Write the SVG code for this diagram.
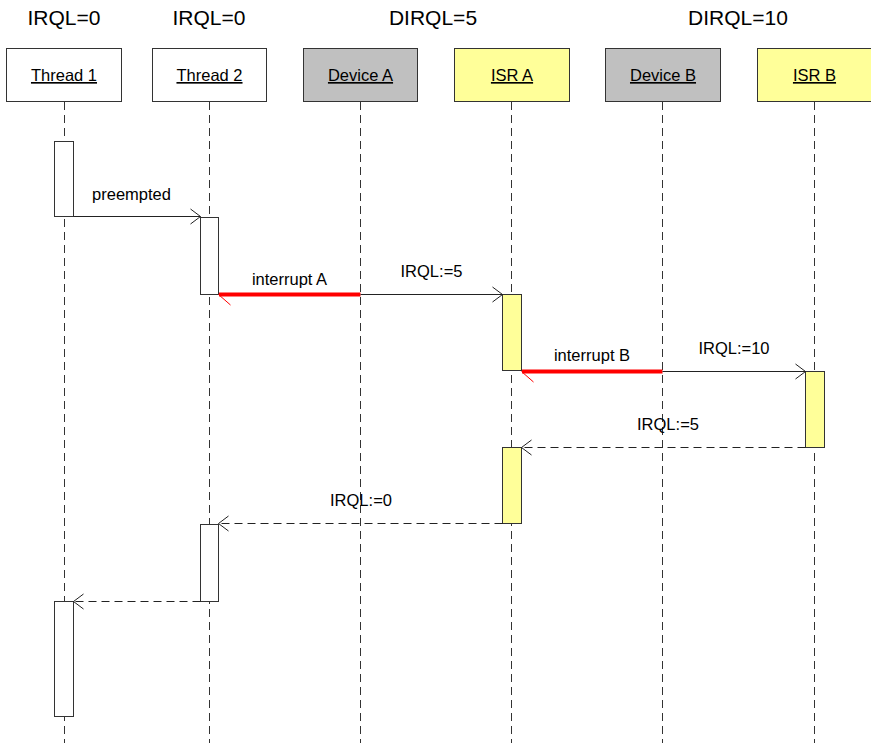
<svg xmlns="http://www.w3.org/2000/svg" width="871" height="743" viewBox="0 0 871 743">
<style>
  .hdr { font-family: "Liberation Sans", Arial, sans-serif; font-size: 21px; fill: #000; text-anchor: middle; }
  .box { stroke: #333; stroke-width: 1; }
  .obj { fill: #fff; }
  .dev { fill: #c0c0c0; }
  .isr { fill: #ffff99; }
  .name { font-family: "Liberation Sans", Arial, sans-serif; font-size: 16.5px; fill: #000; text-anchor: middle; text-decoration: underline; }
  .life { stroke: #333; stroke-width: 1; stroke-dasharray: 8 5; fill: none; }
  .act { stroke: #333; stroke-width: 1; }
  .msg { stroke: #222; stroke-width: 1; fill: none; }
  .ret { stroke: #222; stroke-width: 1; fill: none; stroke-dasharray: 8 5; }
  .irq { stroke: #ff0000; stroke-width: 4; fill: none; }
  .barb { stroke: #ff0000; stroke-width: 1; fill: none; }
  .lbl { font-family: "Liberation Sans", Arial, sans-serif; font-size: 16.5px; fill: #000; text-anchor: middle; }
</style>
<defs>
  <marker id="open" markerUnits="userSpaceOnUse" markerWidth="14" markerHeight="18" refX="11" refY="8.5" orient="auto">
    <path d="M1,1 L11,8.5 L1,16" fill="none" stroke="#222" stroke-width="1"/>
  </marker>
</defs>
<rect width="871" height="743" fill="#fff"/>

<g id="levels">
  <text class="hdr" x="64" y="25">IRQL=0</text>
  <text class="hdr" x="209" y="25">IRQL=0</text>
  <text class="hdr" x="433" y="25">DIRQL=5</text>
  <text class="hdr" x="738" y="25">DIRQL=10</text>
</g>

<g id="thread1">
  <line class="life" x1="64.5" y1="102" x2="64.5" y2="743"/>
  <rect class="box obj" x="6.5" y="48.5" width="115" height="53"/>
  <text class="name" x="64" y="81">Thread 1</text>
</g>
<g id="thread2">
  <line class="life" x1="209.5" y1="102" x2="209.5" y2="743"/>
  <rect class="box obj" x="152.5" y="48.5" width="114" height="53"/>
  <text class="name" x="209.5" y="81">Thread 2</text>
</g>
<g id="deviceA">
  <line class="life" x1="360.5" y1="102" x2="360.5" y2="743"/>
  <rect class="box dev" x="303.5" y="48.5" width="114" height="53"/>
  <text class="name" x="360.5" y="81">Device A</text>
</g>
<g id="isrA">
  <line class="life" x1="511.5" y1="102" x2="511.5" y2="743"/>
  <rect class="box isr" x="454.5" y="48.5" width="115" height="53"/>
  <text class="name" x="512" y="81">ISR A</text>
</g>
<g id="deviceB">
  <line class="life" x1="662.5" y1="102" x2="662.5" y2="743"/>
  <rect class="box dev" x="605.5" y="48.5" width="115" height="53"/>
  <text class="name" x="663" y="81">Device B</text>
</g>
<g id="isrB">
  <line class="life" x1="814.5" y1="102" x2="814.5" y2="743"/>
  <rect class="box isr" x="757.5" y="48.5" width="114" height="53"/>
  <text class="name" x="814.5" y="81">ISR B</text>
</g>

<g id="activations">
  <rect class="act obj" x="54.5" y="141.5" width="19" height="75"/>
  <rect class="act obj" x="200.5" y="217.5" width="18" height="77"/>
  <rect class="act isr" x="502.5" y="294.5" width="19" height="76"/>
  <rect class="act isr" x="805.5" y="371.5" width="19" height="76"/>
  <rect class="act isr" x="502.5" y="447.5" width="19" height="76"/>
  <rect class="act obj" x="200.5" y="524.5" width="18" height="77"/>
  <rect class="act obj" x="54.5" y="601.5" width="19" height="115"/>
</g>

<g id="connectors">
  <line class="msg" x1="73.5" y1="216.5" x2="200.5" y2="216.5" marker-end="url(#open)"/>
  <text class="lbl" x="131.5" y="200">preempted</text>

  <line class="irq" x1="219" y1="294.5" x2="360.5" y2="294.5"/>
  <line class="barb" x1="218.5" y1="294.5" x2="230.5" y2="305"/>
  <line class="msg" x1="360.5" y1="294.5" x2="502.5" y2="294.5" marker-end="url(#open)"/>
  <text class="lbl" x="289.5" y="285">interrupt A</text>
  <text class="lbl" x="431.5" y="277">IRQL:=5</text>

  <line class="irq" x1="522" y1="371.5" x2="662.5" y2="371.5"/>
  <line class="barb" x1="521.5" y1="371.5" x2="533.5" y2="382"/>
  <line class="msg" x1="662.5" y1="371.5" x2="805.5" y2="371.5" marker-end="url(#open)"/>
  <text class="lbl" x="592" y="361">interrupt B</text>
  <text class="lbl" x="734" y="354">IRQL:=10</text>

  <line class="ret" x1="805.5" y1="447.5" x2="521.5" y2="447.5" marker-end="url(#open)"/>
  <text class="lbl" x="668" y="430">IRQL:=5</text>

  <line class="ret" x1="502.5" y1="523.5" x2="218.5" y2="523.5" marker-end="url(#open)"/>
  <text class="lbl" x="361" y="506">IRQL:=0</text>

  <line class="ret" x1="200.5" y1="601.5" x2="73.5" y2="601.5" marker-end="url(#open)"/>
</g>
</svg>
